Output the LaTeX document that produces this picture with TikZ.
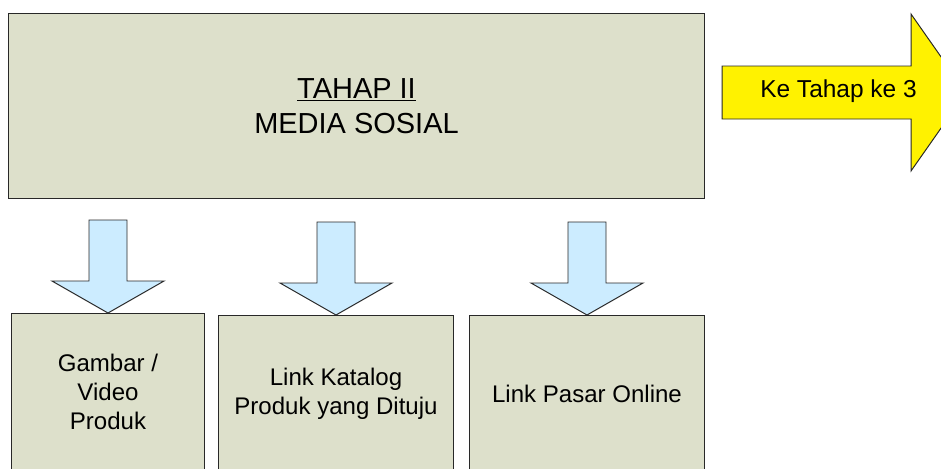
\documentclass[tikz,border=0pt]{standalone}
\usepackage{fontspec}
\setmainfont{Liberation Sans}
\usetikzlibrary{positioning}
\definecolor{boxgreen}{RGB}{221,224,203}
\definecolor{arrowblue}{RGB}{204,236,255}
\definecolor{edgegray}{RGB}{40,40,40}

\begin{document}
\begin{tikzpicture}[x=0.025cm, y=-0.025cm, line width=0.7pt,
box/.style={rectangle, draw=edgegray, fill=boxgreen, inner sep=0pt, outer sep=0pt,
align=center, font=\fontsize{17.1}{20.6}\selectfont},
dnarrow/.pic={\draw[draw=edgegray, fill=arrowblue] (-19,-93) -- (19,-93) -- (19,-32)
 -- (56,-32) -- (0,0) -- (-56,-32) -- (-19,-32) -- cycle;}]

\useasboundingbox (0,0) rectangle (941,468);
\clip (0,0) rectangle (941,468);

\node[box, minimum width=17.375cm, minimum height=4.6cm,
font=\fontsize{20.6}{24.9}\selectfont] (tahap) at (356.5,106) {\underline{TAHAP II}\\MEDIA SOSIAL};

\node[box, anchor=north, minimum width=4.8cm, minimum height=3.95cm] (gambar) at (108,313) {Gambar /\\Video\\Produk};
\node[box, anchor=north, minimum width=5.85cm, minimum height=3.95cm] (katalog) at (336,315) {Link Katalog\\Produk yang Dituju};
\node[box, anchor=north, minimum width=5.85cm, minimum height=3.95cm] (pasar) at (587,315) {Link Pasar Online};

\pic at (gambar.north) {dnarrow};
\pic at (katalog.north) {dnarrow};
\pic at (pasar.north) {dnarrow};

% panah ke tahap berikutnya
\draw[draw=edgegray, fill=yellow] (722,66) -- (911,66) -- (911,14) -- (966,92.5)
 -- (911,171) -- (911,119) -- (722,119) -- cycle;
\node[font=\fontsize{17.4}{20}\selectfont, anchor=base] (ke3) at (838.5,97) {Ke Tahap ke 3};
\end{tikzpicture}
\end{document}
